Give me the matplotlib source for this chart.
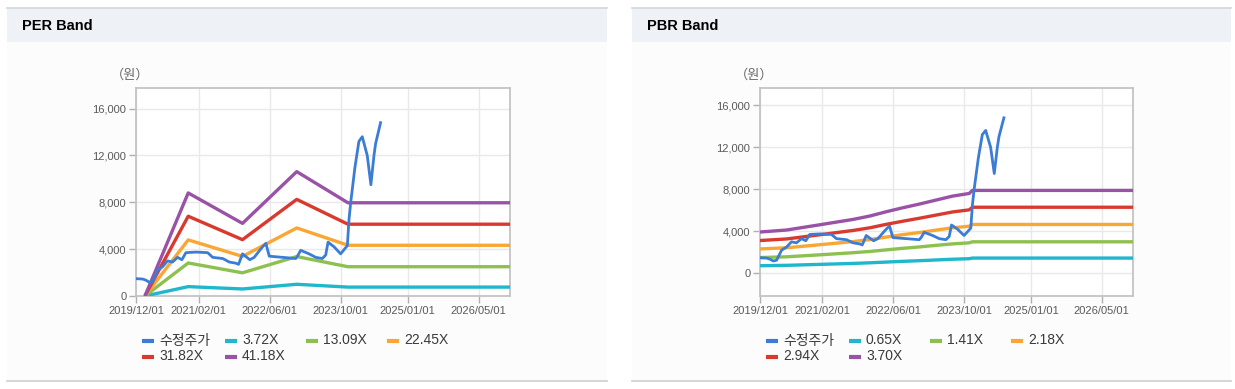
import matplotlib
matplotlib.use('Agg')
import matplotlib.pyplot as plt
from matplotlib.patches import Rectangle
from matplotlib.lines import Line2D
import pandas as pd

W, H = 1235, 389

# ---------------- data ----------------
price_dates = ['2019-12-01', '2020-01-15', '2020-02-07', '2020-03-01', '2020-03-24', '2020-04-27',
               '2020-05-31', '2020-07-04', '2020-08-07', '2020-09-10', '2020-10-10', '2020-11-06',
               '2021-01-14', '2021-04-04', '2021-05-08', '2021-07-16', '2021-08-30', '2021-10-14',
               '2021-11-01', '2021-11-28', '2022-01-17', '2022-02-16', '2022-04-14', '2022-05-07',
               '2022-05-30', '2022-08-29', '2022-11-27', '2022-12-09', '2022-12-31', '2023-02-26',
               '2023-04-13', '2023-05-28', '2023-06-20', '2023-07-06', '2023-08-16', '2023-09-30',
               '2023-11-15', '2023-11-26', '2023-12-08', '2024-01-06', '2024-02-02', '2024-02-25',
               '2024-03-30', '2024-04-24', '2024-05-15', '2024-05-26', '2024-06-29']
price_values = [1480, 1450, 1350, 1170, 1250, 2200,
                2500, 3000, 2900, 3300, 3100, 3700,
                3750, 3700, 3300, 3200, 2900, 2800,
                2700, 3600, 3100, 3300, 4200, 4500,
                3400, 3300, 3200, 3400, 3900, 3600,
                3300, 3200, 3500, 4600, 4200, 3600,
                4300, 6500, 8000, 11000, 13200, 13600,
                12000, 9500, 12000, 13000, 14800]

per_dates = ['2020-01-31', '2020-11-22', '2021-11-28', '2022-12-04', '2023-11-19', '2026-12-01']
per_3_72 = [0, 800, 600, 1000, 760, 760]
per_13_09 = [0, 2820, 1980, 3370, 2500, 2500]
per_22_45 = [0, 4790, 3380, 5810, 4330, 4330]
per_31_82 = [0, 6810, 4810, 8250, 6130, 6130]
per_41_18 = [0, 8800, 6200, 10620, 7960, 7960]
per_labels = ['3.72X', '13.09X', '22.45X', '31.82X', '41.18X']

pbr_dates = ['2019-12-01', '2020-05-31', '2021-01-14', '2021-08-30', '2021-12-22', '2022-04-14',
             '2022-08-06', '2022-11-27', '2023-03-21', '2023-07-13', '2023-11-04', '2023-11-26',
             '2026-12-01']
pbr_0_65 = [720, 760, 850, 940, 1000, 1070, 1140, 1200, 1270, 1340, 1390, 1450, 1450]
pbr_1_41 = [1500, 1570, 1760, 1960, 2080, 2230, 2380, 2510, 2660, 2800, 2900, 3000, 3000]
pbr_2_18 = [2320, 2430, 2720, 3020, 3210, 3450, 3680, 3880, 4110, 4330, 4480, 4650, 4650]
pbr_2_94 = [3120, 3270, 3670, 4080, 4330, 4660, 4960, 5240, 5540, 5840, 6040, 6290, 6290]
pbr_3_70 = [3930, 4120, 4620, 5130, 5450, 5860, 6240, 6590, 6970, 7350, 7600, 7890, 7890]
pbr_labels = ['0.65X', '1.41X', '2.18X', '2.94X', '3.70X']

price_label = '수정주가'
xtick_dates = ['2019-12-01', '2021-02-01', '2022-06-01', '2023-10-01', '2025-01-01', '2026-05-01']
yticks = [0, 4000, 8000, 12000, 16000]

# ---------------- style ----------------
colors = ['#1fb7cb', '#8dc04f', '#f9a732', '#d93a2f', '#9a52a6']
price_color = '#3b7dd6'
FONT = ['Liberation Sans', 'Noto Sans CJK KR', 'DejaVu Sans']
plt.rcParams['font.family'] = FONT

fig = plt.figure(figsize=(W / 100, H / 100), dpi=100)
fig.patch.set_facecolor('white')


def px_rect(x0, y0, x1, y1, color, z=0):
    fig.add_artist(Rectangle((x0 / W, 1 - y1 / H), (x1 - x0) / W, (y1 - y0) / H,
                             transform=fig.transFigure, facecolor=color, edgecolor='none', zorder=z))


def px_hline(x0, x1, y, color, lw=1.2):
    fig.add_artist(Line2D([x0 / W, x1 / W], [1 - y / H, 1 - y / H], transform=fig.transFigure,
                          color=color, lw=lw, zorder=1))


panels = [(7, 607), (632, 1231)]
for (a, b) in panels:
    px_rect(a, 42, b, 381, '#fcfcfc')
    px_rect(a, 8, b, 42, '#eef1f6')
    px_hline(a, b, 7.5, '#d4d6da')
    px_hline(a, b, 381, '#cfcfcf')

for tx, title in [(22, 'PER Band'), (647, 'PBR Band')]:
    fig.text(tx / W, 1 - 26 / H, title, fontsize=10.5, fontweight='bold',
             family=['Liberation Sans', 'DejaVu Sans'], va='center', ha='left', color='#000000')


def make_axes(left_px, right_px, ylim, band_dates, bands, labels, unit_x):
    ax = fig.add_axes([left_px / W, 1 - 296 / H, (right_px - left_px) / W, (296 - 88) / H])
    ax.set_facecolor('white')
    bd = pd.to_datetime(band_dates)
    for vals, c in zip(bands, colors):
        ax.plot(bd, vals, color=c, lw=2.4, solid_capstyle='butt', zorder=3)
    ax.plot(pd.to_datetime(price_dates), price_values, color=price_color, lw=2.0, zorder=4)
    ax.set_xlim(pd.Timestamp('2019-12-01'), pd.Timestamp('2026-12-01'))
    ax.set_ylim(*ylim)
    xt = pd.to_datetime(xtick_dates)
    ax.set_xticks(xt)
    ax.set_xticklabels([d.strftime('%Y/%m/%d') for d in xt])
    ax.set_yticks(yticks)
    ax.set_yticklabels([f'{v:,}' for v in yticks])
    ax.grid(True, color='#e9e9e9', lw=1.0, zorder=0)
    ax.set_axisbelow(True)
    for s in ax.spines.values():
        s.set_color('#c4c4c4')
        s.set_linewidth(1.3)
    ax.tick_params(axis='both', colors='#b0b0b0', labelcolor='#5a5a5a', labelsize=8,
                   length=5, width=1.0, direction='out', pad=2)
    fig.text(unit_x / W, 1 - 75 / H, '（원）', fontsize=9.5, color='#666666', ha='center', va='center',
             family=['Noto Sans CJK KR', 'DejaVu Sans'])

    # legend (manual layout)
    items = [(price_label, price_color)] + list(zip(labels, colors))
    offs = [6, 89, 170, 251]
    rows_y = [340.5, 356.5]
    for i, (lab, c) in enumerate(items):
        r, col = divmod(i, 4)
        x0 = left_px + offs[col]
        y = rows_y[r]
        fig.add_artist(Line2D([x0 / W, (x0 + 12) / W], [1 - y / H, 1 - y / H],
                              transform=fig.transFigure, color=c, lw=3.0, solid_capstyle='butt'))
        fig.text((x0 + 17) / W, 1 - y / H, lab, fontsize=10, color='#3a3a3a', ha='left', va='center')
    return ax


make_axes(136, 510, (0, 17760), per_dates,
          [per_3_72, per_13_09, per_22_45, per_31_82, per_41_18], per_labels, 130)
make_axes(760, 1133, (-2160, 17640), pbr_dates,
          [pbr_0_65, pbr_1_41, pbr_2_18, pbr_2_94, pbr_3_70], pbr_labels, 754)

fig.savefig('out.png', dpi=100, facecolor='white')
